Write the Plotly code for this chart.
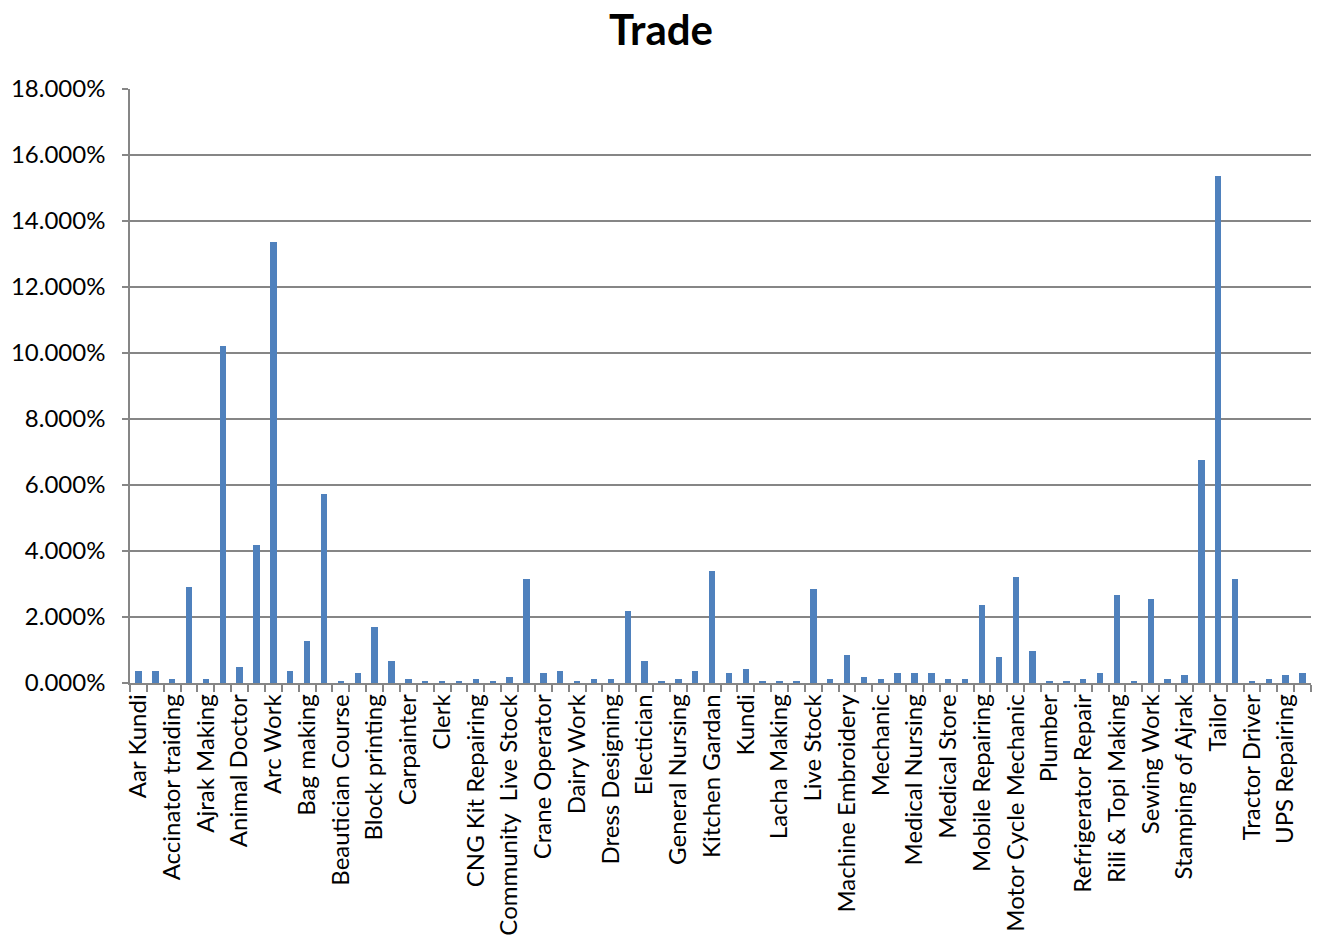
import plotly.graph_objects as go

title = "Trade"

# Labels shown on the axis (every other category; the rest are not printed in the source)
shown_labels = [
    "Aar Kundi", "Accinator traiding", "Ajrak Making", "Animal Doctor", "Arc Work",
    "Bag making", "Beautician Course", "Block printing", "Carpainter", "Clerk",
    "CNG Kit Repairing", "Community  Live Stock", "Crane Operator", "Dairy Work",
    "Dress Designing", "Electician", "General Nursing", "Kitchen Gardan", "Kundi",
    "Lacha Making", "Live Stock", "Machine Embroidery", "Mechanic", "Medical Nursing",
    "Medical Store", "Mobile Repairing", "Motor Cycle Mechanic", "Plumber",
    "Refrigerator Repair", "Rili & Topi Making", "Sewing Work", "Stamping of Ajrak",
    "Tailor", "Tractor Driver", "UPS Repairing",
]

# Share (%) for each of the 70 categories, left to right
values_pct = [
    0.37, 0.37, 0.13, 2.92, 0.13, 10.21, 0.49, 4.19, 13.36, 0.37,
    1.28, 5.73, 0.07, 0.31, 1.71, 0.68, 0.13, 0.07, 0.07, 0.07,
    0.13, 0.07, 0.19, 3.16, 0.31, 0.37, 0.07, 0.13, 0.13, 2.19,
    0.68, 0.07, 0.13, 0.37, 3.40, 0.31, 0.43, 0.07, 0.07, 0.07,
    2.86, 0.13, 0.86, 0.19, 0.13, 0.31, 0.31, 0.31, 0.13, 0.13,
    2.37, 0.80, 3.22, 0.98, 0.07, 0.07, 0.13, 0.31, 2.68, 0.07,
    2.56, 0.13, 0.25, 6.76, 15.36, 3.16, 0.07, 0.13, 0.25, 0.31,
]

n = len(values_pct)
x_pos = list(range(n))
y_vals = [v / 100 for v in values_pct]
label_pos = x_pos[::2]

FONT = "Lato"
GRID = "#868686"

fig = go.Figure(
    go.Bar(
        x=x_pos,
        y=y_vals,
        width=0.38,
        marker=dict(color="#4F81BD", line=dict(width=0)),
        hovertemplate="%{y:.3%}<extra></extra>",
    )
)

fig.update_layout(
    width=1322,
    height=950,
    paper_bgcolor="white",
    plot_bgcolor="white",
    margin=dict(l=128, r=11, t=89, b=267),
    title=dict(
        text="<b>Trade</b>",
        x=0.5,
        xanchor="center",
        y=0.968,
        yanchor="middle",
        font=dict(family=FONT, size=42, color="black"),
    ),
    font=dict(family=FONT, color="black"),
    showlegend=False,
    bargap=0,
)

fig.update_xaxes(
    range=[-0.5, n - 0.5],
    tickmode="array",
    tickvals=label_pos,
    ticktext=shown_labels,
    tickangle=-90,
    ticks="",
    tickfont=dict(family=FONT, size=24, color="black"),
    showgrid=False,
    showline=True,
    linecolor=GRID,
    linewidth=1.5,
    zeroline=False,
    minor=dict(ticks="outside", tick0=-0.5, dtick=1, ticklen=7, tickcolor=GRID, tickwidth=1.5, showgrid=False),
)

fig.update_yaxes(
    range=[0, 0.18],
    tickmode="array",
    tickvals=[i * 0.02 for i in range(10)],
    tickformat=".3%",
    ticks="outside",
    ticklen=6,
    tickcolor=GRID,
    tickwidth=1.5,
    tickfont=dict(family=FONT, size=24, color="black"),
    showgrid=True,
    gridcolor=GRID,
    gridwidth=1.5,
    showline=True,
    linecolor=GRID,
    linewidth=1.5,
    zeroline=False,
    ticklabelstandoff=12,
)

fig.write_html("out.html")
